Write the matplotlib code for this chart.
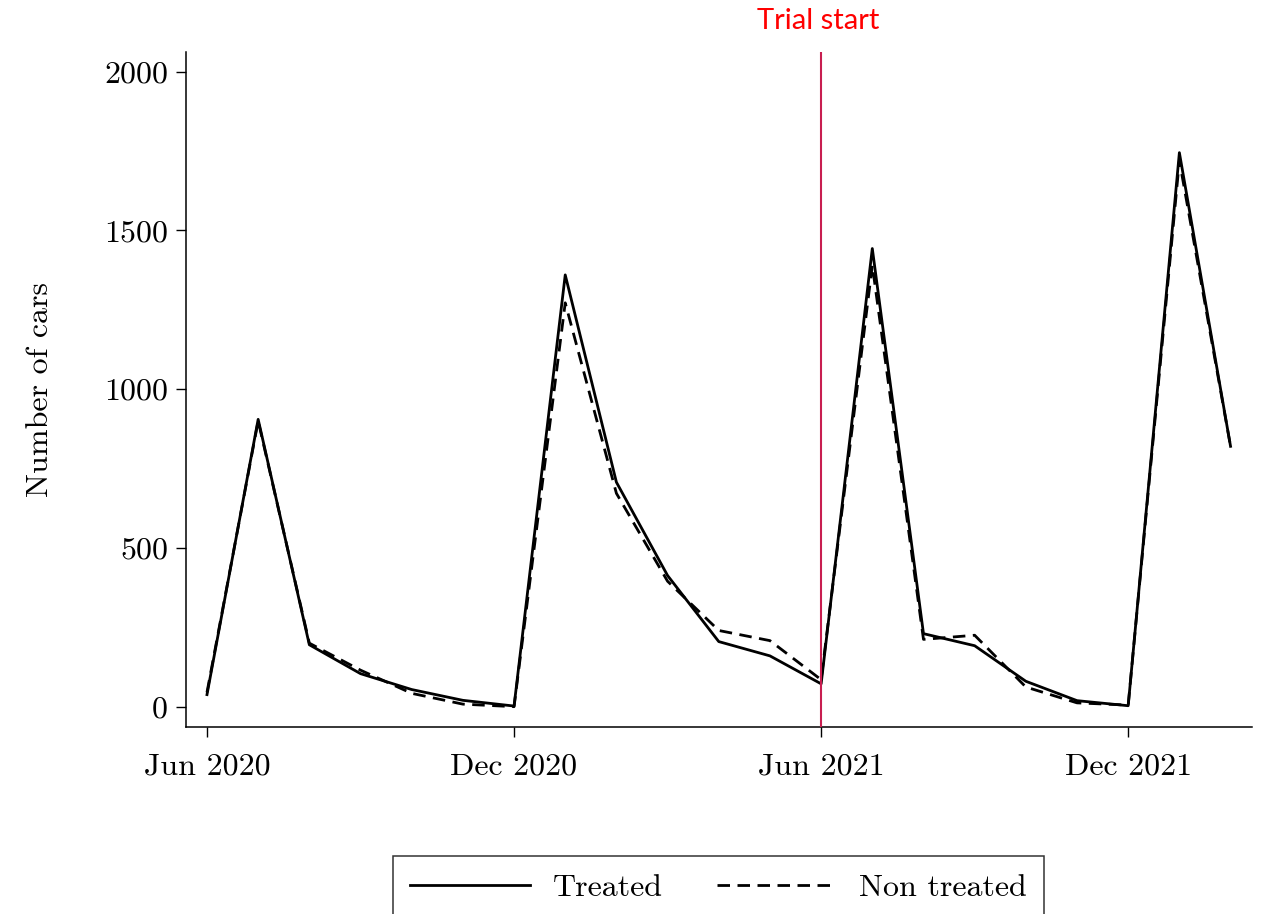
import matplotlib
matplotlib.use("Agg")
import matplotlib.pyplot as plt

plt.rcParams['font.family'] = ['cmr10', 'DejaVu Serif']
plt.rcParams['mathtext.fontset'] = 'cm'
plt.rcParams['axes.formatter.use_mathtext'] = True

months = ["Jun 2020", "Jul 2020", "Aug 2020", "Sep 2020", "Oct 2020", "Nov 2020",
          "Dec 2020", "Jan 2021", "Feb 2021", "Mar 2021", "Apr 2021", "May 2021",
          "Jun 2021", "Jul 2021", "Aug 2021", "Sep 2021", "Oct 2021", "Nov 2021",
          "Dec 2021", "Jan 2022", "Feb 2022"]
treated = [38, 905, 195, 104, 54, 20, 2, 1360, 707, 413, 205, 160, 72,
           1443, 230, 192, 80, 19, 3, 1745, 820]
non_treated = [45, 900, 200, 115, 42, 8, 0, 1272, 672, 395, 240, 208, 85,
               1390, 212, 225, 62, 12, 5, 1720, 820]
xtick_labels = ["Jun 2020", "Dec 2020", "Jun 2021", "Dec 2021"]
ytick_values = [0, 500, 1000, 1500, 2000]
trial_start = "Jun 2021"

x = list(range(len(months)))

fig = plt.figure(figsize=(12.61, 9.14), dpi=100)
ax = fig.add_axes([0.1475, 0.2046, 0.9929 - 0.1475, 0.9431 - 0.2046])

ax.plot(x, treated, color='black', lw=2.0, label='Treated')
ax.plot(x, non_treated, color='black', lw=2.0, dashes=(4.5, 2.7), label='Non treated')

ts = months.index(trial_start)
ax.axvline(ts, color='#C81E50', lw=1.5, zorder=3)

ax.set_xlim(-0.41, 20.42)
ax.set_ylim(-64, 2062)
ax.set_xticks([months.index(m) for m in xtick_labels])
ax.set_xticklabels(xtick_labels)
ax.set_yticks(ytick_values)
ax.set_yticklabels([str(v) for v in ytick_values])

for s in ['top', 'right']:
    ax.spines[s].set_visible(False)
for s in ['left', 'bottom']:
    ax.spines[s].set_linewidth(1.1)
ax.tick_params(axis='both', direction='out', length=7, width=1.0,
               labelsize=23, pad=6, colors='black')
ax.tick_params(axis='x', pad=12)

ax.set_ylabel("Number of cars", fontsize=23, labelpad=36)

fig.text(0.6487, 0.977, "Trial start", color='#FF0000', fontsize=21,
         family=['Lato', 'DejaVu Sans'], ha='center', va='center')

leg = fig.legend(loc='upper center', bbox_to_anchor=(0.5698, 0.0635),
                 bbox_transform=fig.transFigure, ncol=2, fontsize=23,
                 handlelength=3.75, handletextpad=0.7, columnspacing=1.7,
                 borderpad=0.55, borderaxespad=0.0, fancybox=False, frameon=True)
leg.get_frame().set_edgecolor('black')
leg.get_frame().set_linewidth(1.1)

fig.savefig("out.png", dpi=100)
